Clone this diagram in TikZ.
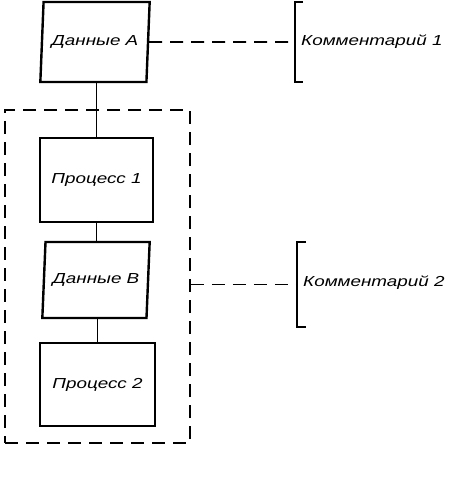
\documentclass[tikz,border=0pt]{standalone}
\usepackage{fontspec}
\newfontfamily\notefont[FakeStretch=1.3]{Liberation Sans}
\usetikzlibrary{shapes.geometric}
\tikzset{
    lbl/.style={font=\notefont\itshape\fontsize{14.5}{16}\selectfont},
    databox/.style={lbl, draw, line width=2.4pt, trapezium, trapezium left angle=78,
        trapezium right angle=102, trapezium stretches=true, inner sep=0pt},
    procbox/.style={lbl, draw, line width=2.4pt, rectangle, inner sep=0pt},
    link/.style={line width=1.6pt},
    dashlink/.style={line width=1.8pt, dash pattern=on 13pt off 8pt},
    bracket/.style={line width=2pt},
    note/.style={lbl, anchor=west, inner sep=0pt}
}
\begin{document}
\begin{tikzpicture}[x=1pt, y=1pt]
    \useasboundingbox (0,0) rectangle (451,-492);
    \node[databox, minimum width=110pt, minimum height=80pt] (dataA) at (95,-42) {Данные A};
    \node[procbox, minimum width=113pt, minimum height=84pt] (proc1) at (96.5,-180) {Процесс 1};
    \node[databox, minimum width=108pt, minimum height=76pt] (dataB) at (96,-280) {Данные B};
    \node[procbox, minimum width=115pt, minimum height=83pt] (proc2) at (97.5,-384.5) {Процесс 2};
    \node[draw, dashlink, minimum width=185pt, minimum height=333pt] (group) at (97.5,-276.5) {};
    \draw[link] (proc1.north |- dataA.south) -- (proc1.north);
    \draw[link] (proc1.south) -- (proc1.south |- dataB.north);
    \draw[link] (proc2.north |- dataB.south) -- (proc2.north);
    \coordinate (b1) at (295,-42);
    \coordinate (b2) at (297,-284.5);
    \draw[bracket] ([xshift=8pt,yshift=40pt]b1) -| ([yshift=-40pt]b1) -- ++(8,0);
    \draw[bracket] ([xshift=9pt,yshift=42.5pt]b2) -| ([yshift=-42.5pt]b2) -- ++(9,0);
    \draw[dashlink] (dataA.east) -- (b1);
    \draw[dashlink] (group.east |- b2) -- (b2);
    \node[note] (note1) at (301,-42) {Комментарий 1};
    \node[note] (note2) at (303,-283) {Комментарий 2};
\end{tikzpicture}
\end{document}
